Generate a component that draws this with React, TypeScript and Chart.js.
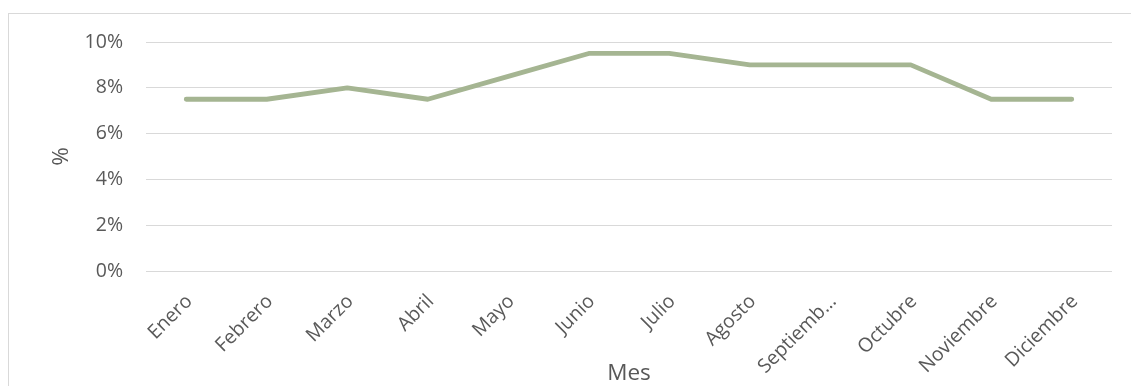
import React, { useEffect, useRef } from "react";
import { Chart, registerables } from "chart.js";

Chart.register(...registerables);

// Monthly percentage values
const months = [
  "Enero", "Febrero", "Marzo", "Abril", "Mayo", "Junio",
  "Julio", "Agosto", "Septiembre", "Octubre", "Noviembre", "Diciembre",
];
const rates = [7.5, 7.5, 8, 7.5, 8.5, 9.5, 9.5, 9, 9, 9, 7.5, 7.5];
const yTicks = [0, 2, 4, 6, 8, 10];

const FONT = "'Open Sans', 'DejaVu Sans', sans-serif";
const TEXT = "#595959";
const GRID = "#d9d9d9";

export default function App() {
  const canvasRef = useRef<HTMLCanvasElement | null>(null);

  useEffect(() => {
    const canvas = canvasRef.current;
    if (!canvas) return;
    const chart = new Chart(canvas, {
      type: "line",
      data: {
        labels: months,
        datasets: [
          {
            data: rates,
            borderColor: "#a5b592",
            borderWidth: 4.8,
            borderCapStyle: "round",
            borderJoinStyle: "round",
            pointRadius: 0,
            tension: 0,
          },
        ],
      },
      options: {
        animation: false,
        responsive: false,
        maintainAspectRatio: false,
        layout: { padding: { left: 9, top: 42, right: 19, bottom: 0 } },
        plugins: { legend: { display: false }, tooltip: { enabled: false } },
        scales: {
          x: {
            offset: true,
            grid: { display: false, drawTicks: false },
            border: { display: false },
            ticks: {
              color: TEXT,
              font: { family: FONT, size: 19.5 },
              maxRotation: 45,
              minRotation: 45,
              padding: 19,
              labelOffset: 3,
              autoSkip: false,
              callback: function (value: any) {
                const s = months[value as number];
                return s.length > 9 ? s.slice(0, 8) + "…" : s;
              },
            },
            title: {
              display: true,
              text: "Mes",
              color: TEXT,
              font: { family: FONT, size: 22.5 },
              padding: { top: 0, bottom: -1 },
            },
            afterFit: (scale: any) => {
              scale.height = 115;
            },
          },
          y: {
            min: 0,
            max: 10,
            afterBuildTicks: (scale: any) => {
              scale.ticks = yTicks.map((v) => ({ value: v }));
            },
            grid: { color: GRID, lineWidth: 1, drawTicks: false },
            border: { display: false },
            ticks: {
              color: TEXT,
              font: { family: FONT, size: 19.5 },
              padding: 23,
              callback: (v: any) => v + "%",
            },
            title: {
              display: true,
              text: "%",
              color: TEXT,
              font: { family: FONT, size: 22.5 },
              padding: { top: 39, bottom: 0 },
            },
            afterFit: (scale: any) => {
              scale.width = 137;
            },
          },
        },
      },
    });
    return () => chart.destroy();
  }, []);

  return (
    <div
      style={{
        position: "fixed",
        left: 0,
        top: 0,
        width: 1131,
        height: 386,
        overflow: "hidden",
        background: "#fff",
      }}
    >
      <div
        style={{
          position: "absolute",
          left: 8,
          top: 13,
          width: 1200,
          height: 500,
          border: "1px solid #d9d9d9",
          boxSizing: "border-box",
        }}
      />
      <canvas
        ref={canvasRef}
        width={1131}
        height={386}
        style={{ position: "absolute", left: 0, top: 0 }}
      />
    </div>
  );
}
